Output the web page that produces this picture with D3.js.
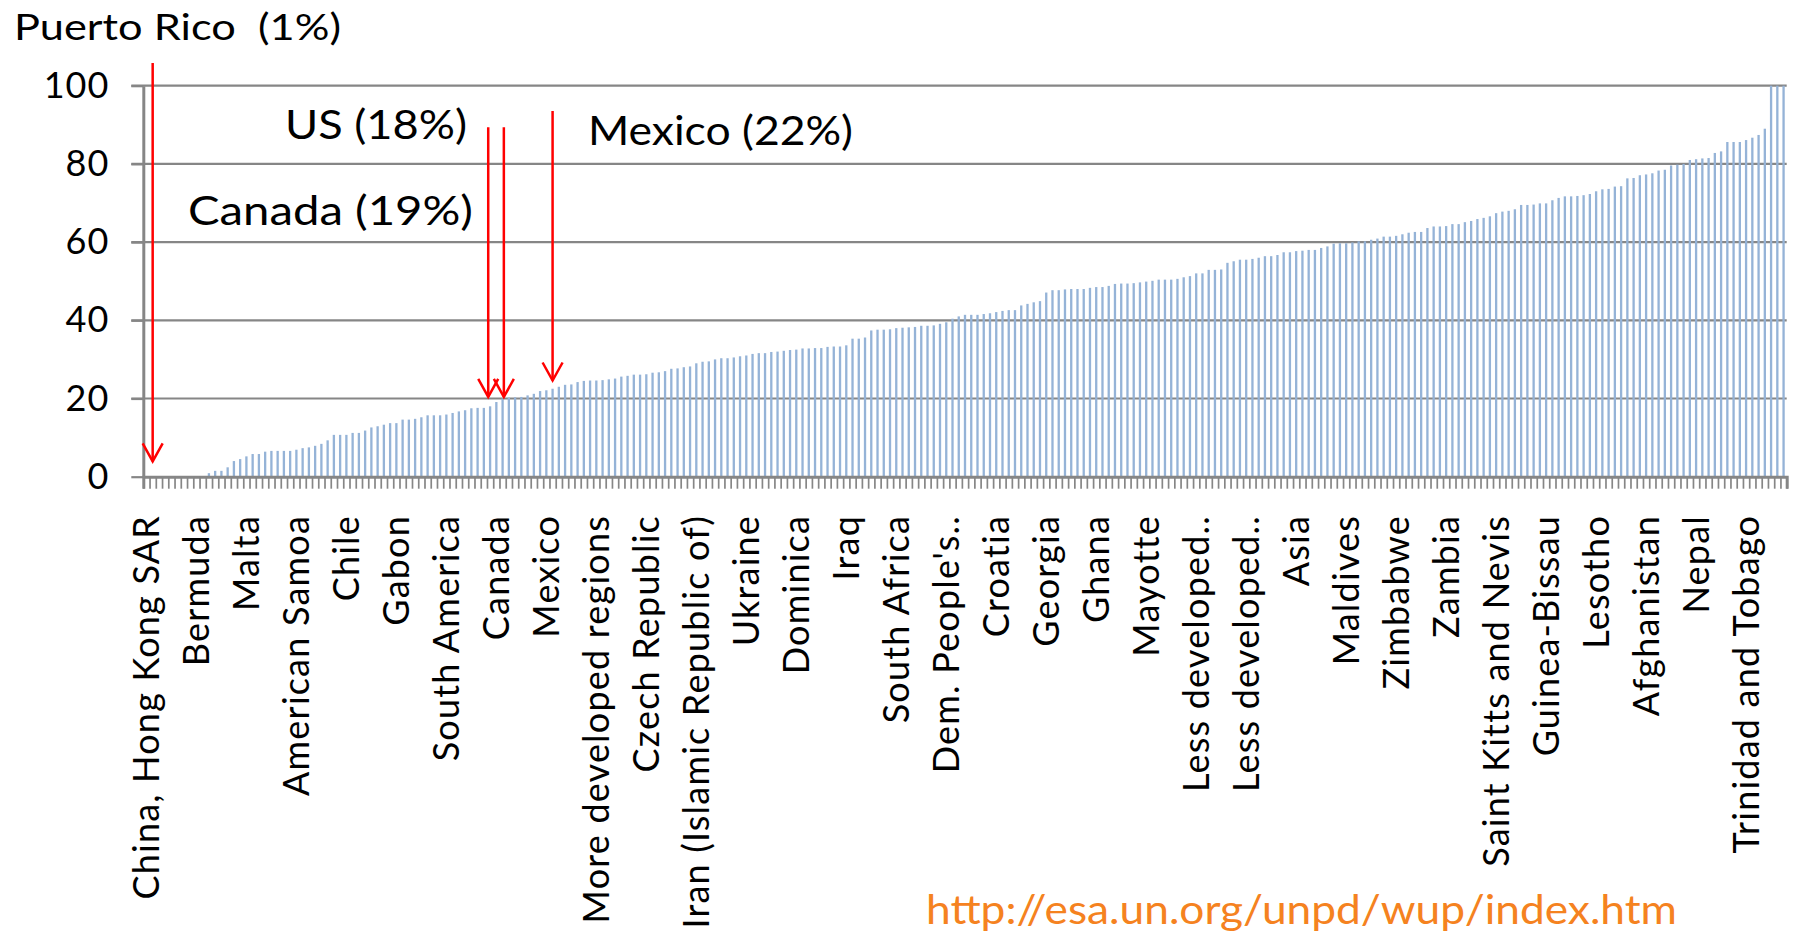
<!DOCTYPE html>
<html><head><meta charset="utf-8">
<script src="https://cdn.jsdelivr.net/npm/d3@7"></script>
<style>
html,body{margin:0;padding:0;background:#fff;overflow:hidden;}
svg{display:block;}
text{font-family:Lato,"Open Sans",sans-serif;fill:#000;}
</style></head><body>
<svg id="chart" width="1795" height="933"></svg>
<script>
// Rural population share (%) by country/region, sorted ascending
const ruralShare = [
  0,0,0,0,0,0,0,0,0,0,
  0.9,1.5,1.5,2.4,4.0,4.5,5.2,5.8,5.8,6.4,
  6.6,6.6,6.6,6.6,6.9,7.3,7.5,7.9,8.4,9.3,
  10.7,10.7,10.7,11.2,11.2,11.8,12.6,12.9,13.3,13.7,
  13.7,14.6,14.6,14.8,15.2,15.7,15.7,15.7,15.9,16.3,
  16.7,17.0,17.5,17.6,17.6,18.0,19.1,20.0,20.2,20.3,
  20.4,20.8,21.2,21.9,22.1,22.5,23.0,23.5,23.6,24.2,
  24.5,24.6,24.6,24.7,24.9,25.1,25.6,25.8,26.1,26.1,
  26.2,26.6,26.7,27.0,27.6,27.7,28.0,28.2,29.0,29.4,
  29.5,30.0,30.3,30.3,30.5,30.8,31.0,31.4,31.6,31.6,
  31.9,32.0,32.2,32.4,32.5,32.8,32.8,32.9,32.9,33.2,
  33.3,33.3,33.6,35.3,35.3,35.6,37.4,37.6,37.6,37.7,
  38.0,38.1,38.2,38.3,38.6,38.6,38.7,39.1,39.5,40.4,
  41.0,41.4,41.4,41.4,41.6,41.8,42.1,42.4,42.6,42.6,
  43.8,44.2,44.6,44.9,47.1,47.7,47.7,47.9,48.0,48.0,
  48.0,48.3,48.5,48.5,48.8,49.3,49.4,49.4,49.5,49.7,
  49.9,50.1,50.4,50.4,50.4,50.6,51.0,51.3,52.0,52.0,
  52.9,52.9,53.0,54.7,55.1,55.5,55.5,55.7,56.0,56.4,
  56.4,56.7,57.4,57.4,57.7,57.8,58.0,58.0,58.5,58.9,
  59.6,59.7,59.7,59.9,60.2,60.2,60.6,60.9,61.4,61.4,
  61.6,62.0,62.4,62.6,62.6,63.6,64.0,64.0,64.1,64.6,
  64.6,65.1,65.4,65.9,66.2,66.6,67.4,67.8,68.0,68.4,
  69.5,69.5,69.6,69.9,69.9,70.7,71.3,71.7,71.7,71.8,
  72.0,72.3,73.0,73.5,73.6,74.2,74.3,76.3,76.4,77.1,
  77.3,77.6,78.3,78.5,79.6,79.8,80.0,81.0,81.2,81.4,
  81.5,82.8,83.2,85.6,85.6,85.6,86.1,86.7,87.4,89.0,
  100,100,100
];

// Category labels shown on the axis (every 8th category)
const tickLabels = [
  "China, Hong Kong SAR","Bermuda","Malta","American Samoa","Chile","Gabon",
  "South America","Canada","Mexico","More developed regions","Czech Republic",
  "Iran (Islamic Republic of)","Ukraine","Dominica","Iraq","South Africa",
  "Dem. People's..","Croatia","Georgia","Ghana","Mayotte","Less developed..",
  "Less developed..","Asia","Maldives","Zimbabwe","Zambia","Saint Kitts and Nevis",
  "Guinea-Bissau","Lesotho","Afghanistan","Nepal","Trinidad and Tobago"
];
const labelEvery = 8;
const yTickValues = [0,20,40,60,80,100];

// Annotations: text, category index pointed at, arrow top / tip (data units)
const annText  = ["Puerto Rico\u00a0\u00a0(1%)","US (18%)","Canada (19%)","Mexico (22%)"];
const annIndex = [1, 54.7, 57.2, 65];
const annTop   = [105.8, 89.4, 89.4, 93.5];
const annTip   = [3.9, 20.4, 20.4, 24.6];

const sourceText = "http://esa.un.org/unpd/wup/index.htm";

// ---------- layout ----------
const L = 143.3, R = 1786.7, Y0 = 476.7, Y100 = 85.7;
const grey = "#868686", barColor = "#95b3d7", red = "#ff0000";

const svg = d3.select("#chart");
const idx = d3.range(ruralShare.length);

const x = d3.scaleBand().domain(idx).range([L, R]).paddingInner(0.63).paddingOuter(0.315);
const xb = d3.scaleLinear().domain([0, ruralShare.length]).range([L, R]);
const y = d3.scaleLinear().domain([0, 100]).range([Y0, Y100]);
const cx = i => xb(i + 0.5);

// gridlines
svg.append("g").selectAll("line").data(yTickValues.filter(v => v > 0)).join("line")
  .attr("x1", L - 12).attr("x2", R).attr("y1", d => y(d)).attr("y2", d => y(d))
  .attr("stroke", grey).attr("stroke-width", 2.2);

// bars
svg.append("g").selectAll("rect").data(ruralShare).join("rect")
  .attr("x", (d, i) => x(i)).attr("width", x.bandwidth())
  .attr("y", d => y(d)).attr("height", d => y(0) - y(d))
  .attr("fill", barColor);

// y axis
const yAxis = svg.append("g").attr("transform", `translate(${L},0)`)
  .call(d3.axisLeft(y).tickValues(yTickValues).tickSizeInner(12).tickSizeOuter(0).tickPadding(22));
yAxis.select(".domain").attr("stroke", grey).attr("stroke-width", 3);
yAxis.selectAll(".tick line").attr("stroke", grey).attr("stroke-width", 2.2);
yAxis.selectAll(".tick text").style("font-family", "Lato").style("font-size", "36px")
  .attr("fill", "#000").attr("letter-spacing", "1");

// x axis: ticks at category boundaries
const xAxis = svg.append("g").attr("transform", `translate(0,${Y0})`)
  .call(d3.axisBottom(xb).tickValues(d3.range(ruralShare.length + 1)).tickSize(12).tickFormat(""));
xAxis.select(".domain").attr("stroke", grey).attr("stroke-width", 3);
xAxis.selectAll(".tick line").attr("stroke", grey).attr("stroke-width", 1.7);

// x labels
svg.append("g").selectAll("text").data(tickLabels).join("text")
  .attr("transform", (d, k) => `translate(${cx(k * labelEvery)},515) rotate(-90)`)
  .attr("text-anchor", "end").attr("dy", "0.36em")
  .attr("letter-spacing", "1.2")
  .style("font-size", "36px")
  .text(d => d);

// annotation arrows
const arrows = svg.append("g").attr("stroke", red).attr("stroke-width", 2.5).attr("fill", "none");
annIndex.forEach((ai, k) => {
  const ax = cx(ai), yt = y(annTop[k]), yp = y(annTip[k]);
  arrows.append("line").attr("x1", ax).attr("x2", ax).attr("y1", yt).attr("y2", yp);
  arrows.append("path").attr("d", `M${ax - 10},${yp - 18}L${ax},${yp}L${ax + 10},${yp - 18}`);
});

// annotation texts
const annPos = [
  {x: 14, y: 40, anchor: "start", len: 327, size: 36},
  {x: 467, y: 139, anchor: "end", len: 182, size: 41},
  {x: 188, y: 225, anchor: "start", len: 285, size: 41},
  {x: 588, y: 145, anchor: "start", len: 265, size: 41}
];
annText.forEach((t, k) => {
  const p = annPos[k];
  svg.append("text").attr("x", p.x).attr("y", p.y).attr("text-anchor", p.anchor)
    .style("font-size", p.size + "px")
    .attr("textLength", p.len).attr("lengthAdjust", "spacingAndGlyphs")
    .text(t);
});

// source
svg.append("text").attr("x", 926).attr("y", 924)
  .style("font-size", "40px").style("fill", "#f58220")
  .attr("textLength", 751).attr("lengthAdjust", "spacingAndGlyphs")
  .text(sourceText);
</script>
</body></html>
